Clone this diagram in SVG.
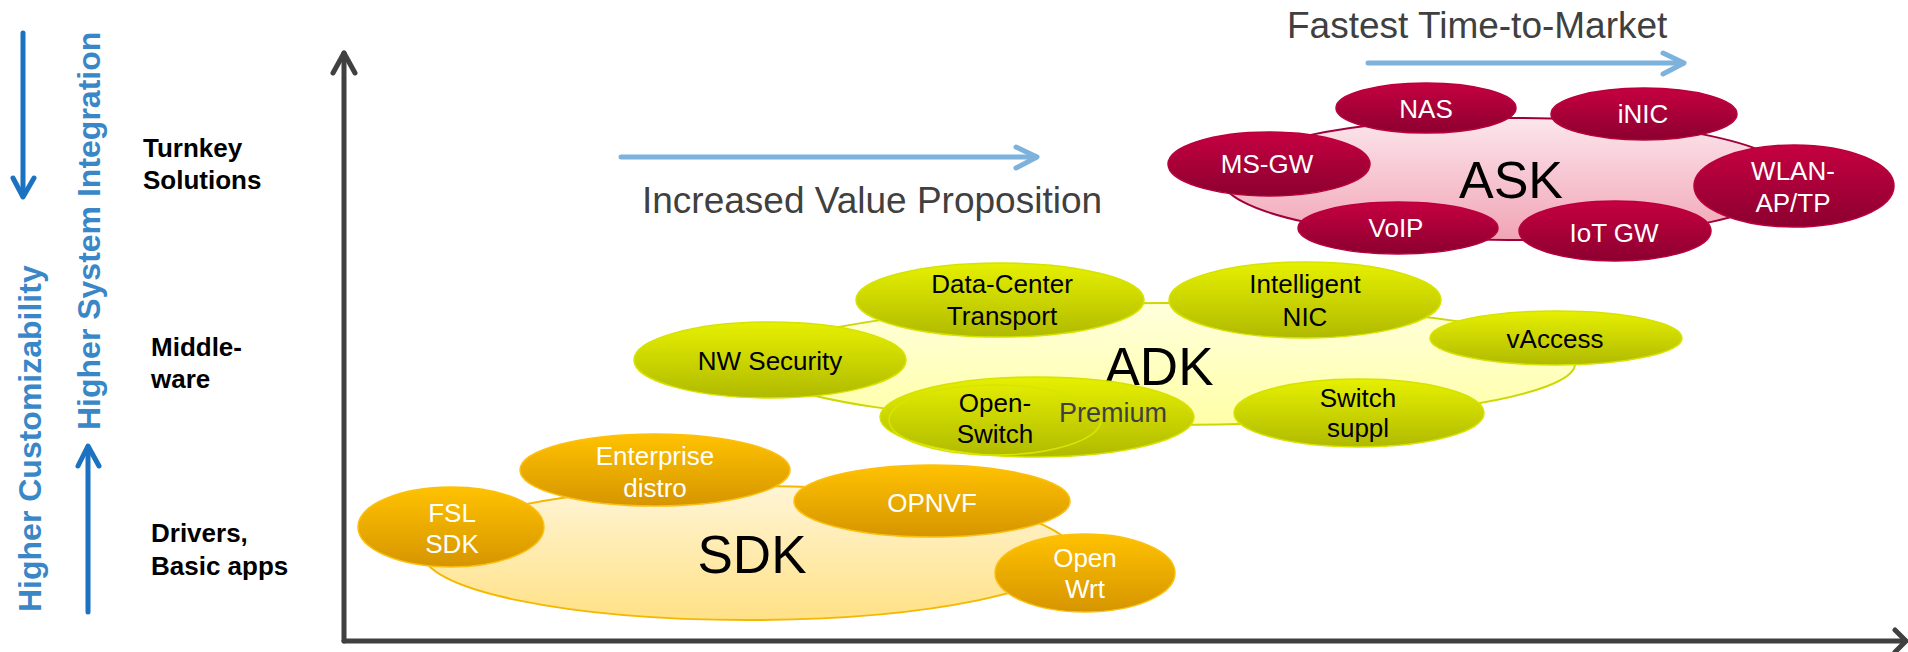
<svg xmlns="http://www.w3.org/2000/svg" width="1908" height="652" viewBox="0 0 1908 652">
<style>
text{font-family:"Liberation Sans",Arial,sans-serif}
.lbl{font-size:26px;text-anchor:middle}
.w{fill:#ffffff}
.k{fill:#000000}
.side{font-size:26px;font-weight:bold;fill:#000}
.vert{font-size:32px;font-weight:bold;fill:#3a87c8}
.big{font-size:53px;text-anchor:middle;fill:#000}
.cap{font-size:37px;fill:#404040}
.axis{stroke:#404040;stroke-width:5;fill:none;stroke-linecap:round;stroke-linejoin:round}
.blue{stroke:#1a72c0;stroke-width:5;fill:none;stroke-linecap:round;stroke-linejoin:round}
.lblue{stroke:#7db2dd;stroke-width:5;fill:none;stroke-linecap:round;stroke-linejoin:round}
.orange{fill:url(#gOrange);stroke:#fbbf10;stroke-width:1.5}
.sdk{fill:url(#gSdk);stroke:#f5b800;stroke-width:2}
.lime{fill:url(#gLime);stroke:#d6e200;stroke-width:1.5}
.adk{fill:url(#gAdk);stroke:#ccd800;stroke-width:2}
.crim{fill:url(#gCrim);stroke:#b8003c;stroke-width:1.5}
.ask{fill:url(#gAsk);stroke:#a0003a;stroke-width:2}
</style>
<defs>
<linearGradient id="gOrange" x1="0" y1="0" x2="0" y2="1"><stop offset="0" stop-color="#ffc200"/><stop offset="1" stop-color="#d69500"/></linearGradient>
<linearGradient id="gSdk" x1="0" y1="0" x2="0" y2="1"><stop offset="0" stop-color="#fff5d6"/><stop offset="1" stop-color="#ffe186"/></linearGradient>
<linearGradient id="gLime" x1="0" y1="0" x2="0" y2="1"><stop offset="0" stop-color="#e6f000"/><stop offset="1" stop-color="#b0ba00"/></linearGradient>
<linearGradient id="gAdk" x1="0" y1="0" x2="0" y2="1"><stop offset="0" stop-color="#ffffdc"/><stop offset="1" stop-color="#ffffa8"/></linearGradient>
<linearGradient id="gCrim" x1="0" y1="0" x2="0" y2="1"><stop offset="0" stop-color="#c60042"/><stop offset="1" stop-color="#8c002f"/></linearGradient>
<linearGradient id="gAsk" x1="0" y1="0" x2="0" y2="1"><stop offset="0" stop-color="#fce6ec"/><stop offset="1" stop-color="#f1a4b5"/></linearGradient>
</defs>
<rect width="1908" height="652" fill="#ffffff"/>

<g id="connectors">
<polyline class="axis" points="344,641 344,53"/>
<polyline class="axis" points="333,73 344,53 355,73"/>
<polyline class="axis" points="344,641 1905,641"/>
<polyline class="axis" points="1895,630 1906,641 1895,652"/>
<polyline class="blue" points="23,33 23,196"/>
<polyline class="blue" points="13,178 23,197 34,178"/>
<polyline class="blue" points="88,612 88,447"/>
<polyline class="blue" points="78,466 88,446 99,466"/>
<polyline class="lblue" points="621,157 1036,157"/>
<polyline class="lblue" points="1016,147 1037,157 1016,168"/>
<polyline class="lblue" points="1368,63 1683,63"/>
<polyline class="lblue" points="1663,53 1684,63 1663,74"/>
</g>

<g id="axis-labels">
<text class="vert" transform="translate(41,612) rotate(-90)">Higher Customizability</text>
<text class="vert" transform="translate(100,430) rotate(-90)">Higher System Integration</text>
<text class="side" x="143" y="157">Turnkey</text>
<text class="side" x="143" y="189">Solutions</text>
<text class="side" x="151" y="356">Middle-</text>
<text class="side" x="151" y="388">ware</text>
<text class="side" x="151" y="542">Drivers,</text>
<text class="side" x="151" y="575">Basic apps</text>
<text class="cap" x="642" y="213">Increased Value Proposition</text>
<text class="cap" x="1287" y="38">Fastest Time-to-Market</text>
</g>

<!-- ASK -->
<g id="ask"><ellipse class="ask" cx="1508" cy="179" rx="286" ry="61"/><text class="big" x="1511" y="198" style="font-size:52px">ASK</text></g>
<g id="nas"><ellipse class="crim" cx="1426" cy="108" rx="90" ry="25"/><text class="lbl w" x="1426" y="118">NAS</text></g>
<g id="inic"><ellipse class="crim" cx="1644" cy="114" rx="93" ry="26"/><text class="lbl w" x="1643" y="123">iNIC</text></g>
<g id="msgw"><ellipse class="crim" cx="1269" cy="164" rx="101" ry="32"/><text class="lbl w" x="1267" y="173">MS-GW</text></g>
<g id="wlan"><ellipse class="crim" cx="1794" cy="186" rx="100" ry="41"/><text class="lbl w" x="1793" y="180">WLAN-</text><text class="lbl w" x="1793" y="212">AP/TP</text></g>
<g id="voip"><ellipse class="crim" cx="1398" cy="228" rx="100" ry="26"/><text class="lbl w" x="1396" y="237">VoIP</text></g>
<g id="iotgw"><ellipse class="crim" cx="1615" cy="231" rx="96" ry="30"/><text class="lbl w" x="1614" y="242">IoT GW</text></g>

<!-- ADK -->
<g id="adk"><ellipse class="adk" cx="1165" cy="364" rx="410" ry="61"/><text class="big" x="1159" y="385">ADK</text></g>
<g id="nwsec"><ellipse class="lime" cx="770" cy="360" rx="136" ry="38"/><text class="lbl k" x="770" y="370">NW Security</text></g>
<g id="dct"><ellipse class="lime" cx="1000" cy="300" rx="144" ry="37"/><text class="lbl k" x="1002" y="293">Data-Center</text><text class="lbl k" x="1002" y="325">Transport</text></g>
<g id="inicadk"><ellipse class="lime" cx="1305" cy="300" rx="136" ry="38"/><text class="lbl k" x="1305" y="293">Intelligent</text><text class="lbl k" x="1305" y="326">NIC</text></g>
<g id="vaccess"><ellipse class="lime" cx="1556" cy="338" rx="126" ry="27"/><text class="lbl k" x="1555" y="348">vAccess</text></g>
<g id="switchsuppl"><ellipse class="lime" cx="1359" cy="413" rx="125" ry="34"/><text class="lbl k" x="1358" y="407">Switch</text><text class="lbl k" x="1358" y="437">suppl</text></g>
<g id="openswitch"><ellipse class="lime" cx="1037" cy="417" rx="157" ry="40"/><ellipse cx="995" cy="420" rx="106" ry="35" fill="none" stroke="#d8e400" stroke-width="1.5"/><text class="lbl k" x="995" y="412">Open-</text><text class="lbl k" x="995" y="443">Switch</text><text class="lbl" x="1113" y="422" style="fill:#404040;font-size:27px">Premium</text></g>

<!-- SDK -->
<g id="sdk"><ellipse class="sdk" cx="748" cy="553" rx="325" ry="67"/><text class="big" x="752" y="573">SDK</text></g>
<g id="fslsdk"><ellipse class="orange" cx="451" cy="527" rx="93" ry="40"/><text class="lbl w" x="452" y="522">FSL</text><text class="lbl w" x="452" y="553">SDK</text></g>
<g id="enterprise"><ellipse class="orange" cx="655" cy="470" rx="135" ry="36"/><text class="lbl w" x="655" y="465">Enterprise</text><text class="lbl w" x="655" y="497">distro</text></g>
<g id="opnvf"><ellipse class="orange" cx="932" cy="501" rx="138" ry="36"/><text class="lbl w" x="932" y="512">OPNVF</text></g>
<g id="openwrt"><ellipse class="orange" cx="1085" cy="573" rx="90" ry="39"/><text class="lbl w" x="1085" y="567">Open</text><text class="lbl w" x="1085" y="598">Wrt</text></g>
</svg>
